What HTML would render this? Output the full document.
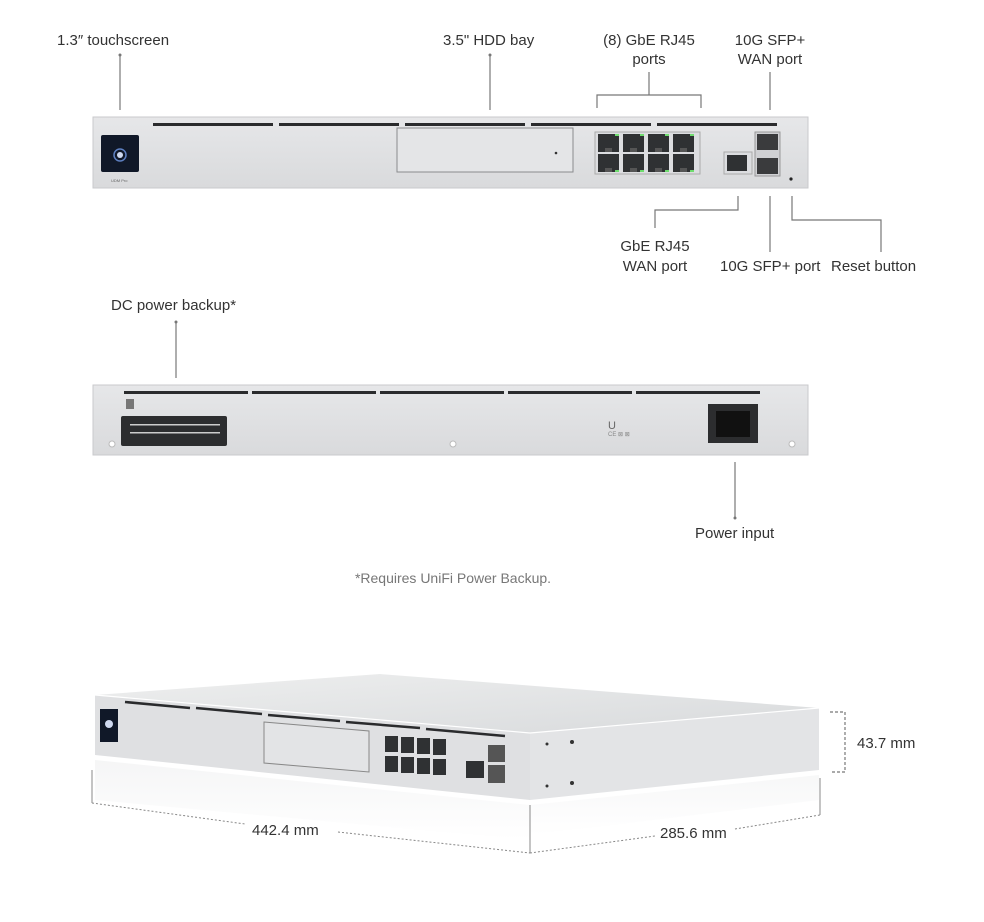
<!DOCTYPE html>
<html><head><meta charset="utf-8"><style>
html,body{margin:0;padding:0;background:#fff;}
svg{display:block;font-family:"Liberation Sans",sans-serif;}
.l{font-size:15px;fill:#333;}
.ln{stroke:#777;stroke-width:1.2;fill:none;}
</style></head><body>
<svg width="984" height="922" viewBox="0 0 984 922">
<defs>
<linearGradient id="pf" x1="0" y1="0" x2="0" y2="1"><stop offset="0" stop-color="#e6e7e9"/><stop offset="1" stop-color="#d9dadc"/></linearGradient>
<linearGradient id="top" x1="0" y1="0" x2="1" y2="1"><stop offset="0" stop-color="#eeefef"/><stop offset="1" stop-color="#d8dadc"/></linearGradient>
<linearGradient id="refl" x1="0" y1="0" x2="0" y2="1"><stop offset="0" stop-color="#ebeced"/><stop offset="1" stop-color="#fff"/></linearGradient>
<g id="rj"><rect width="21" height="18" fill="#2f3133"/><rect x="7" y="14" width="7" height="4" fill="#555"/></g>
</defs>

<text class="l" x="57" y="45">1.3″ touchscreen</text>
<line class="ln" x1="120" y1="55" x2="120" y2="110"/><circle cx="120" cy="55" r="1.5" fill="#777"/>
<text class="l" x="443" y="45">3.5" HDD bay</text>
<line class="ln" x1="490" y1="55" x2="490" y2="110"/><circle cx="490" cy="55" r="1.5" fill="#777"/>
<text class="l" x="649" y="45" text-anchor="middle">(8) GbE RJ45</text>
<text class="l" x="649" y="64" text-anchor="middle">ports</text>
<path class="ln" d="M649 72V95M597 108V95H701V108"/>
<text class="l" x="770" y="45" text-anchor="middle">10G SFP+</text>
<text class="l" x="770" y="64" text-anchor="middle">WAN port</text>
<line class="ln" x1="770" y1="72" x2="770" y2="110"/>

<rect x="93" y="117" width="715" height="71" fill="url(#pf)" stroke="#c9cacc"/>
<g fill="#2a2b2d">
<rect x="153" y="123" width="120" height="3"/><rect x="279" y="123" width="120" height="3"/><rect x="405" y="123" width="120" height="3"/><rect x="531" y="123" width="120" height="3"/><rect x="657" y="123" width="120" height="3"/>
</g>
<rect x="101" y="135" width="38" height="37" rx="2" fill="#101828"/>
<circle cx="120" cy="155" r="6" fill="none" stroke="#5d7fc0" stroke-width="1.5"/><circle cx="120" cy="155" r="3" fill="#cfd9f0"/>
<text x="111" y="182" font-size="4" fill="#666">UDM Pro</text>
<rect x="397" y="128" width="176" height="44" fill="#e4e5e7" stroke="#8a8b8e"/>
<circle cx="556" cy="153" r="1.3" fill="#333"/>
<rect x="595" y="132" width="105" height="42" fill="#dcdde0" stroke="#aaa"/>
<use href="#rj" x="598" y="134"/><use href="#rj" x="623" y="134"/><use href="#rj" x="648" y="134"/><use href="#rj" x="673" y="134"/>
<use href="#rj" x="598" y="154"/><use href="#rj" x="623" y="154"/><use href="#rj" x="648" y="154"/><use href="#rj" x="673" y="154"/>
<g fill="#6fdc6f"><rect x="615" y="134" width="4" height="2"/><rect x="640" y="134" width="4" height="2"/><rect x="665" y="134" width="4" height="2"/><rect x="690" y="134" width="4" height="2"/><rect x="615" y="170" width="4" height="2"/><rect x="640" y="170" width="4" height="2"/><rect x="665" y="170" width="4" height="2"/><rect x="690" y="170" width="4" height="2"/><rect x="744" y="154" width="4" height="2"/></g>
<rect x="724" y="152" width="28" height="22" fill="#dcdde0" stroke="#aaa"/>
<rect x="727" y="155" width="20" height="16" fill="#2f3133"/>
<rect x="755" y="132" width="25" height="44" fill="#cfd0d3" stroke="#999"/>
<rect x="757" y="134" width="21" height="16" fill="#3a3b3d"/><rect x="757" y="158" width="21" height="16" fill="#3a3b3d"/>
<circle cx="791" cy="179" r="1.6" fill="#222"/>

<path class="ln" d="M738 196V210H655V228"/>
<text class="l" x="655" y="251" text-anchor="middle">GbE RJ45</text>
<text class="l" x="655" y="271" text-anchor="middle">WAN port</text>
<line class="ln" x1="770" y1="196" x2="770" y2="252"/>
<text class="l" x="720" y="271">10G SFP+ port</text>
<path class="ln" d="M792 196V220H881V252"/>
<text class="l" x="831" y="271">Reset button</text>

<text class="l" x="111" y="310">DC power backup*</text>
<line class="ln" x1="176" y1="322" x2="176" y2="378"/><circle cx="176" cy="322" r="1.5" fill="#777"/>
<rect x="93" y="385" width="715" height="70" fill="url(#pf)" stroke="#c9cacc"/>
<g fill="#2a2b2d"><rect x="124" y="391" width="124" height="3"/><rect x="252" y="391" width="124" height="3"/><rect x="380" y="391" width="124" height="3"/><rect x="508" y="391" width="124" height="3"/><rect x="636" y="391" width="124" height="3"/></g>
<rect x="126" y="399" width="8" height="10" fill="#777"/>
<rect x="121" y="416" width="106" height="30" rx="2" fill="#2c2d2f"/>
<g fill="#ccc"><rect x="130" y="424" width="90" height="1.5"/><rect x="130" y="432" width="90" height="1.5"/></g>
<rect x="708" y="404" width="50" height="39" fill="#2c2d2f"/>
<rect x="716" y="411" width="34" height="26" fill="#111"/>
<text x="608" y="429" font-size="11" fill="#666">U</text>
<text x="608" y="436" font-size="6" fill="#888">CE ⊠ ⊠</text>
<circle cx="112" cy="444" r="3" fill="#fff" stroke="#bbb"/><circle cx="453" cy="444" r="3" fill="#fff" stroke="#bbb"/><circle cx="792" cy="444" r="3" fill="#fff" stroke="#bbb"/>
<line class="ln" x1="735" y1="462" x2="735" y2="518"/><circle cx="735" cy="518" r="1.5" fill="#777"/>
<text class="l" x="695" y="538">Power input</text>
<text x="453" y="583" text-anchor="middle" font-size="14" fill="#777">*Requires UniFi Power Backup.</text>

<polygon points="95,760 530,805 530,840 95,800" fill="url(#refl)" opacity="0.5"/>
<polygon points="530,805 819,775 819,800 530,835" fill="url(#refl)" opacity="0.4"/>
<polygon points="95,695 380,674 819,708 530,733" fill="url(#top)"/>
<polygon points="95,695 530,733 530,800 95,755" fill="#dfe0e2"/>
<polygon points="530,733 819,708 819,770 530,800" fill="#e3e4e6"/>
<line x1="95" y1="695" x2="530" y2="733" stroke="#fff" stroke-width="1.2"/>
<line x1="530" y1="733" x2="819" y2="708" stroke="#fff" stroke-width="1.2"/>
<g stroke="#2a2b2d" stroke-width="2.5">
<line x1="125" y1="702" x2="190" y2="708"/><line x1="196" y1="708" x2="262" y2="714"/><line x1="268" y1="715" x2="340" y2="721"/><line x1="346" y1="722" x2="420" y2="728"/><line x1="426" y1="729" x2="505" y2="736"/></g>
<rect x="100" y="709" width="18" height="33" fill="#101828"/>
<circle cx="109" cy="724" r="4" fill="#cfd9f0"/>
<polygon points="264,722 369,731 369,772 264,763" fill="#e3e4e6" stroke="#888"/>
<g fill="#2f3133">
<rect x="385" y="736" width="13" height="16"/><rect x="401" y="737" width="13" height="16"/><rect x="417" y="738" width="13" height="16"/><rect x="433" y="739" width="13" height="16"/>
<rect x="385" y="756" width="13" height="16"/><rect x="401" y="757" width="13" height="16"/><rect x="417" y="758" width="13" height="16"/><rect x="433" y="759" width="13" height="16"/>
<rect x="466" y="761" width="18" height="17"/><rect x="488" y="745" width="17" height="17" fill="#555"/><rect x="488" y="765" width="17" height="18" fill="#555"/></g>
<g fill="#333"><circle cx="547" cy="744" r="1.5"/><circle cx="572" cy="742" r="2"/><circle cx="547" cy="786" r="1.5"/><circle cx="572" cy="783" r="2"/></g>
<path d="M830 712H845V772H830" stroke="#777" stroke-width="1.2" fill="none" stroke-dasharray="3 2"/>
<text class="l" x="857" y="748">43.7 mm</text>
<g stroke="#888" stroke-width="1" fill="none">
<line x1="92" y1="770" x2="92" y2="803"/><line x1="530" y1="805" x2="530" y2="853"/><line x1="820" y1="778" x2="820" y2="815"/>
<g stroke-dasharray="2 2"><line x1="92" y1="803" x2="245" y2="824"/><line x1="338" y1="832" x2="530" y2="853"/><line x1="530" y1="853" x2="655" y2="836"/><line x1="735" y1="829" x2="820" y2="815"/></g></g>
<text class="l" x="252" y="835">442.4 mm</text>
<text class="l" x="660" y="838">285.6 mm</text>
</svg>
</body></html>
